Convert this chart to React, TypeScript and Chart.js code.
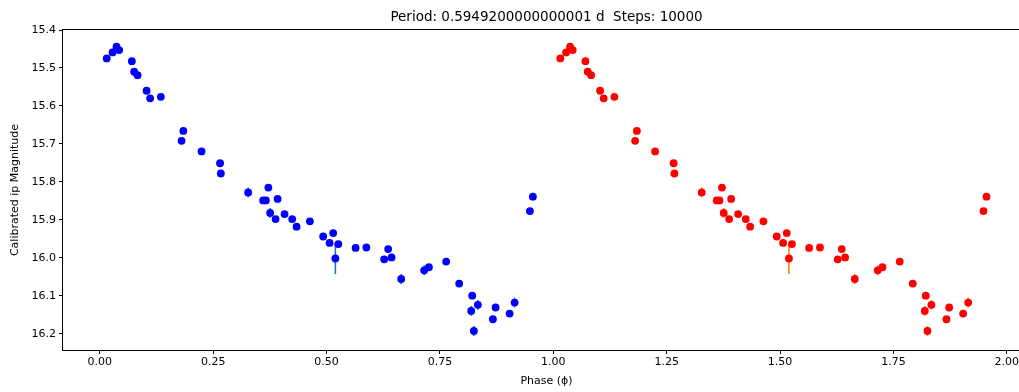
import React, { useEffect, useRef } from 'react';
import { Chart, registerables } from 'chart.js';

Chart.register(...registerables);

// Phase-folded light curve (first cycle)
const PHASE = [
  0.0154, 0.0282, 0.037, 0.0428, 0.0708, 0.0759, 0.0834, 0.1032, 0.1111, 0.1347,
  0.1804, 0.1843, 0.2245, 0.2653, 0.267, 0.3272, 0.3603, 0.3663, 0.3718, 0.3757,
  0.3877, 0.3921, 0.4075, 0.4243, 0.434, 0.4633, 0.4926, 0.5067, 0.5147, 0.5195,
  0.5261, 0.5641, 0.5879, 0.6271, 0.6359, 0.6434, 0.6646, 0.7153, 0.7257, 0.7638,
  0.7925, 0.819, 0.8212, 0.8249, 0.8337, 0.8668, 0.8728, 0.9036, 0.9147, 0.9484,
  0.955,
];
const MAGNITUDE = [
  15.475, 15.459, 15.444, 15.453, 15.482, 15.51, 15.519, 15.56, 15.58, 15.576,
  15.692, 15.666, 15.72, 15.751, 15.778, 15.828, 15.849, 15.849, 15.815, 15.882,
  15.898, 15.845, 15.885, 15.898, 15.918, 15.904, 15.944, 15.961, 15.935, 16.002,
  15.964, 15.974, 15.973, 16.004, 15.977, 15.999, 16.056, 16.033, 16.025, 16.01,
  16.068, 16.14, 16.1, 16.193, 16.124, 16.162, 16.131, 16.147, 16.118, 15.877,
  15.839,
];
const MAG_ERROR = [
  0.007, 0.007, 0.007, 0.007, 0.007, 0.007, 0.007, 0.007, 0.007, 0.007,
  0.007, 0.007, 0.007, 0.007, 0.007, 0.013, 0.007, 0.007, 0.007, 0.013,
  0.007, 0.007, 0.007, 0.007, 0.007, 0.007, 0.007, 0.007, 0.007, 0.041,
  0.007, 0.007, 0.007, 0.007, 0.007, 0.007, 0.013, 0.013, 0.007, 0.007,
  0.007, 0.013, 0.007, 0.013, 0.013, 0.007, 0.007, 0.007, 0.013, 0.007,
  0.007,
];
// the second cycle is the same observations plotted one phase later
const CYCLE_OFFSET = 1;

const X_TICKS = [0, 0.25, 0.5, 0.75, 1.0, 1.25, 1.5, 1.75, 2.0];
const Y_TICKS = [15.4, 15.5, 15.6, 15.7, 15.8, 15.9, 16.0, 16.1, 16.2];
const X_RANGE = [-0.081, 2.051];
const Y_RANGE = [15.4, 16.243];

const TITLE = 'Period: 0.5949200000000001 d  Steps: 10000';
const X_LABEL = 'Phase (ϕ)';
const Y_LABEL = 'Calibrated ip Magnitude';

const FONT = 'DejaVu Sans';

const errorBarPlugin = {
  id: 'errorBars',
  beforeDatasetDraw(chart: any, args: any) {
    const ds = chart.data.datasets[args.index];
    if (!ds.errors) return;
    const { ctx, chartArea, scales } = chart;
    const xs = scales.x;
    const ys = scales.y;
    ctx.save();
    ctx.beginPath();
    ctx.rect(chartArea.left, chartArea.top, chartArea.right - chartArea.left, chartArea.bottom - chartArea.top);
    ctx.clip();
    ctx.strokeStyle = ds.errorColor;
    ctx.lineWidth = 1.6;
    ds.data.forEach((p: any, i: number) => {
      const e = ds.errors[i];
      const px = xs.getPixelForValue(p.x);
      const y1 = ys.getPixelForValue(p.y - e);
      const y2 = ys.getPixelForValue(p.y + e);
      ctx.beginPath();
      ctx.moveTo(px, y1);
      ctx.lineTo(px, y2);
      ctx.stroke();
    });
    ctx.restore();
  },
};

const framePlugin = {
  id: 'frame',
  afterDatasetsDraw(chart: any) {
    const { ctx, chartArea } = chart;
    ctx.save();
    ctx.strokeStyle = '#000';
    ctx.lineWidth = 1;
    ctx.strokeRect(
      chartArea.left - 0.5,
      chartArea.top - 0.5,
      chartArea.right - chartArea.left + 1,
      chartArea.bottom - chartArea.top + 1
    );
    ctx.restore();
  },
};

const titleCenterPlugin = {
  id: 'titleCenter',
  afterLayout(chart: any) {
    const t = chart.titleBlock;
    if (t) {
      t.left = chart.chartArea.left;
      t.right = chart.chartArea.right;
      t.width = t.right - t.left;
    }
  },
};

export default function App() {
  const ref = useRef<HTMLCanvasElement>(null);

  useEffect(() => {
    document.body.style.margin = '0';
    document.body.style.overflow = 'hidden';
    const first = PHASE.map((p, i) => ({ x: p, y: MAGNITUDE[i] }));
    const second = PHASE.map((p, i) => ({ x: p + CYCLE_OFFSET, y: MAGNITUDE[i] }));

    const tickFont = { family: FONT, size: 11 };

    const chart = new Chart(ref.current as HTMLCanvasElement, {
      type: 'scatter',
      data: {
        datasets: [
          {
            data: first,
            backgroundColor: '#0000ff',
            borderWidth: 0,
            pointRadius: 3.9,
            pointHoverRadius: 3.9,
            errors: MAG_ERROR,
            errorColor: '#1f77b4',
          } as any,
          {
            data: second,
            backgroundColor: '#ff0000',
            borderWidth: 0,
            pointRadius: 3.9,
            pointHoverRadius: 3.9,
            errors: MAG_ERROR,
            errorColor: '#ff7f0e',
          } as any,
        ],
      },
      options: {
        animation: false,
        responsive: false,
        devicePixelRatio: 1,
        layout: { padding: { left: 0, right: 10, top: 0, bottom: 0 } },
        plugins: {
          legend: { display: false },
          tooltip: { enabled: false },
          title: {
            display: true,
            text: TITLE,
            color: '#000',
            font: { family: FONT, size: 13.5, weight: 'normal' },
            padding: { top: 8.9, bottom: 4.9 },
          },
        },
        scales: {
          x: {
            type: 'linear',
            position: 'bottom',
            min: X_RANGE[0],
            max: X_RANGE[1],
            border: { display: false },
            grid: {
              drawOnChartArea: false,
              drawTicks: true,
              tickLength: 4,
              tickWidth: 1,
              tickColor: '#000',
            },
            ticks: {
              font: tickFont,
              color: '#000',
              padding: 2,
              maxRotation: 0,
              autoSkip: false,
              callback: (v: any) => Number(v).toFixed(2),
            },
            title: {
              display: true,
              text: X_LABEL,
              color: '#000',
              font: tickFont,
              padding: { top: 0, bottom: 4.4 },
            },
            afterBuildTicks: (scale: any) => {
              scale.ticks = X_TICKS.map((v) => ({ value: v }));
            },
            afterFit: (scale: any) => {
              scale.height = 42;
              scale.paddingLeft = 0;
              scale.paddingRight = 0;
            },
          },
          y: {
            type: 'linear',
            position: 'left',
            reverse: true,
            min: Y_RANGE[0],
            max: Y_RANGE[1],
            border: { display: false },
            grid: {
              drawOnChartArea: false,
              drawTicks: true,
              tickLength: 4,
              tickWidth: 1,
              tickColor: '#000',
            },
            ticks: {
              font: tickFont,
              color: '#000',
              padding: 3,
              autoSkip: false,
              callback: (v: any) => Number(v).toFixed(1),
            },
            title: {
              display: true,
              text: Y_LABEL,
              color: '#000',
              font: tickFont,
              padding: { top: 9, bottom: 0 },
            },
            afterBuildTicks: (scale: any) => {
              scale.ticks = Y_TICKS.map((v) => ({ value: v }));
            },
            afterFit: (scale: any) => {
              scale.width = 63;
              scale.paddingTop = 0;
              scale.paddingBottom = 0;
            },
          },
        },
      } as any,
      plugins: [errorBarPlugin, framePlugin, titleCenterPlugin],
    });

    return () => chart.destroy();
  }, []);

  return (
    <div style={{ width: 1019, height: 392, overflow: 'hidden', position: 'relative', background: '#fff' }}>
      <canvas ref={ref} width={1040} height={392} style={{ display: 'block', width: 1040, height: 392 }} />
    </div>
  );
}
